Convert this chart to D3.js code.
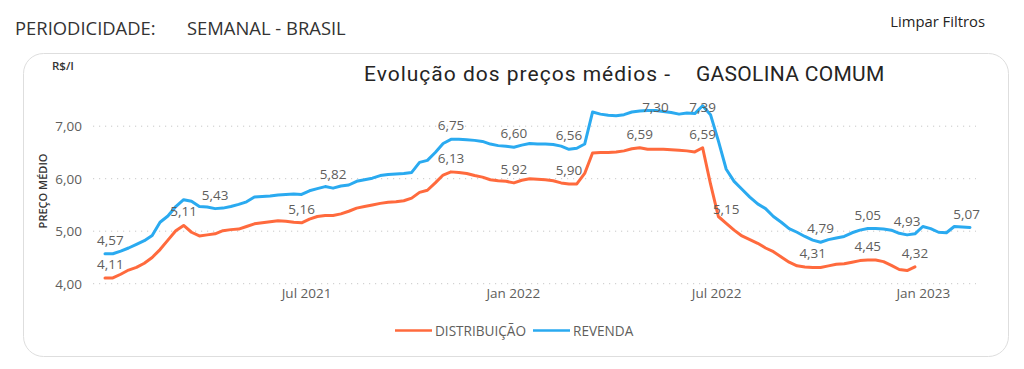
<!DOCTYPE html>
<html><head><meta charset="utf-8">
<script src="https://cdn.jsdelivr.net/npm/d3@7"></script>
<style>
html,body{margin:0;padding:0;background:#fff;}
svg{display:block;}
</style></head>
<body>
<svg id="c" width="1024" height="369"></svg>
<script>
// ---- data (weekly, first week starting 2021-01-03) ----
const firstWeek = "2021-01-03";
const revenda = [4.57,4.57,4.62,4.68,4.75,4.82,4.92,5.17,5.29,5.47,5.60,5.57,5.47,5.46,5.43,5.44,5.47,5.51,5.56,5.65,
5.66,5.67,5.69,5.70,5.71,5.70,5.77,5.81,5.85,5.82,5.86,5.88,5.95,5.98,6.01,6.06,6.08,6.09,6.10,6.12,
6.31,6.35,6.50,6.67,6.75,6.75,6.74,6.73,6.71,6.66,6.63,6.62,6.60,6.64,6.67,6.66,6.66,6.65,6.62,6.56,
6.58,6.66,7.27,7.23,7.21,7.20,7.22,7.27,7.29,7.30,7.30,7.28,7.26,7.23,7.25,7.24,7.39,7.22,6.72,6.18,
5.95,5.80,5.65,5.52,5.43,5.28,5.17,5.05,4.98,4.90,4.83,4.79,4.84,4.87,4.90,4.97,5.02,5.05,5.05,5.04,
5.02,4.96,4.93,4.95,5.09,5.05,4.98,4.97,5.09,5.08,5.07];
const distribuicao = [4.11,4.11,4.18,4.26,4.31,4.39,4.50,4.65,4.83,5.01,5.11,4.98,4.91,4.93,4.95,5.01,5.03,5.04,5.09,5.14,
5.16,5.18,5.20,5.19,5.17,5.16,5.23,5.28,5.30,5.30,5.33,5.38,5.44,5.47,5.50,5.53,5.55,5.56,5.58,5.63,
5.74,5.78,5.92,6.07,6.13,6.12,6.10,6.06,6.03,5.98,5.96,5.95,5.92,5.97,6.00,5.99,5.98,5.96,5.92,5.90,
5.90,6.10,6.49,6.50,6.50,6.51,6.53,6.57,6.59,6.56,6.56,6.56,6.55,6.54,6.53,6.51,6.59,5.90,5.28,5.15,
5.02,4.91,4.84,4.77,4.68,4.61,4.51,4.41,4.34,4.32,4.31,4.31,4.34,4.37,4.38,4.41,4.44,4.45,4.45,4.42,
4.35,4.27,4.25,4.32];
const revendaLabelIdx = [0,14,29,44,52,59,70,76,91,97,102,110];
const distribLabelIdx = [0,10,25,44,52,59,68,76,79,90,97,103];
const yTicks = [4,5,6,7];
const xTickDates = ["2021-07-01","2022-01-01","2022-07-01","2023-01-01"];
const xTickLabels = ["Jul 2021","Jan 2022","Jul 2022","Jan 2023"];
const seriesNames = ["DISTRIBUIÇÃO","REVENDA"];
const seriesColors = ["#FF6A3D","#2AAAF0"];

// ---- setup ----
const svg = d3.select("#c");
const FONT = "'Open Sans', 'Noto Sans', sans-serif";
const gray = "#605E5C";
const t0 = new Date(firstWeek + "T00:00:00Z");
const weekDate = i => d3.utcDay.offset(t0, 7 * i);
const lastDate = weekDate(revenda.length - 1);

const x = d3.scaleUtc().domain([t0, lastDate]).range([105, 970]);
const y = d3.scaleLinear().domain([4, 7]).range([283.7, 126.2]);

// header texts
svg.append("text").attr("x", 15).attr("y", 35).attr("font-family", FONT).attr("font-size", 18.4)
  .attr("fill", "#333").text("PERIODICIDADE:");
svg.append("text").attr("x", 187).attr("y", 35).attr("font-family", FONT).attr("font-size", 18.4)
  .attr("fill", "#333").text("SEMANAL - BRASIL");
svg.append("text").attr("x", 985).attr("y", 27).attr("text-anchor", "end").attr("font-family", FONT)
  .attr("font-size", 14.8).attr("fill", "#252423").text("Limpar Filtros");

// card
svg.append("rect").attr("x", 23.5).attr("y", 53.5).attr("width", 985).attr("height", 303)
  .attr("rx", 20).attr("fill", "#fff").attr("stroke", "#dedede").attr("stroke-width", 1);

// title
const TFONT = "Roboto, 'DejaVu Sans', sans-serif";
svg.append("text").attr("x", 364).attr("y", 81).attr("font-family", TFONT).attr("font-size", 21)
  .attr("letter-spacing", 1).attr("fill", "#252423").text("Evolução dos preços médios -");
svg.append("text").attr("x", 696).attr("y", 81).attr("font-family", TFONT).attr("font-size", 21)
  .attr("letter-spacing", 0.3).attr("fill", "#252423").text("GASOLINA COMUM");

// axis titles
svg.append("text").attr("x", 52).attr("y", 70).attr("font-family", FONT).attr("font-size", 11.5)
  .attr("font-weight", 600).attr("fill", "#333").text("R$/l");
svg.append("text").attr("transform", "translate(47,191) rotate(-90)").attr("text-anchor", "middle")
  .attr("font-family", FONT).attr("font-size", 11).attr("font-weight", 600).attr("fill", "#333")
  .text("PREÇO MÉDIO");

// gridlines
svg.append("g").selectAll("line").data(yTicks).join("line")
  .attr("x1", 93).attr("x2", 976).attr("y1", d => y(d)).attr("y2", d => y(d))
  .attr("stroke", "#c8c8c8").attr("stroke-width", 1).attr("stroke-dasharray", "1.2,4.8");

// y axis
const fmt = d => d.toFixed(2).replace(".", ",");
const yAxis = svg.append("g").attr("transform", "translate(90,0)")
  .call(d3.axisLeft(y).tickValues(yTicks).tickFormat(fmt).tickSize(0).tickPadding(8));
yAxis.select(".domain").remove();
yAxis.selectAll("text").attr("font-family", FONT).attr("font-size", 13.5).attr("fill", gray);

// x axis
const xTicks = xTickDates.map(s => new Date(s + "T00:00:00Z"));
const xAxis = svg.append("g").attr("transform", "translate(0,288)")
  .call(d3.axisBottom(x).tickValues(xTicks).tickFormat((d, i) => xTickLabels[i]).tickSize(0).tickPadding(0));
xAxis.select(".domain").remove();
xAxis.selectAll("text").attr("font-family", FONT).attr("font-size", 13.5).attr("fill", gray).attr("dy", "0.75em");

// lines
const series = [
  {name: seriesNames[0], color: seriesColors[0], values: distribuicao, labels: distribLabelIdx},
  {name: seriesNames[1], color: seriesColors[1], values: revenda, labels: revendaLabelIdx}
];
const line = d3.line().x((d, i) => x(weekDate(i))).y(d => y(d));
series.forEach(s => {
  svg.append("path").attr("d", line(s.values)).attr("fill", "none").attr("stroke", s.color)
    .attr("stroke-width", 3).attr("stroke-linejoin", "round").attr("stroke-linecap", "round");
});

// data labels (kept inside the plot area, as the original does)
const plotTop = 112;
series.forEach(s => {
  s.labels.forEach(i => {
    const v = s.values[i];
    const t = svg.append("text").attr("font-family", FONT).attr("font-size", 13.5).attr("fill", gray)
      .attr("text-anchor", "middle").attr("y", Math.max(plotTop, y(v) - 9)).text(fmt(v));
    const w = t.node().getComputedTextLength();
    let cx = x(weekDate(i));
    cx = Math.max(cx, 97 + w / 2);
    cx = Math.min(cx, 980 - w / 2);
    t.attr("x", cx);
  });
});

// legend
const lg = svg.append("g");
const legendPos = [395, 533];
series.forEach((s, k) => {
  lg.append("line").attr("x1", legendPos[k]).attr("x2", legendPos[k] + 37).attr("y1", 330.5).attr("y2", 330.5)
    .attr("stroke", s.color).attr("stroke-width", 2.5);
  lg.append("text").attr("x", legendPos[k] + 40).attr("y", 335.5).attr("font-family", FONT)
    .attr("font-size", 13.6).attr("fill", gray).text(s.name);
});
</script>
</body></html>
